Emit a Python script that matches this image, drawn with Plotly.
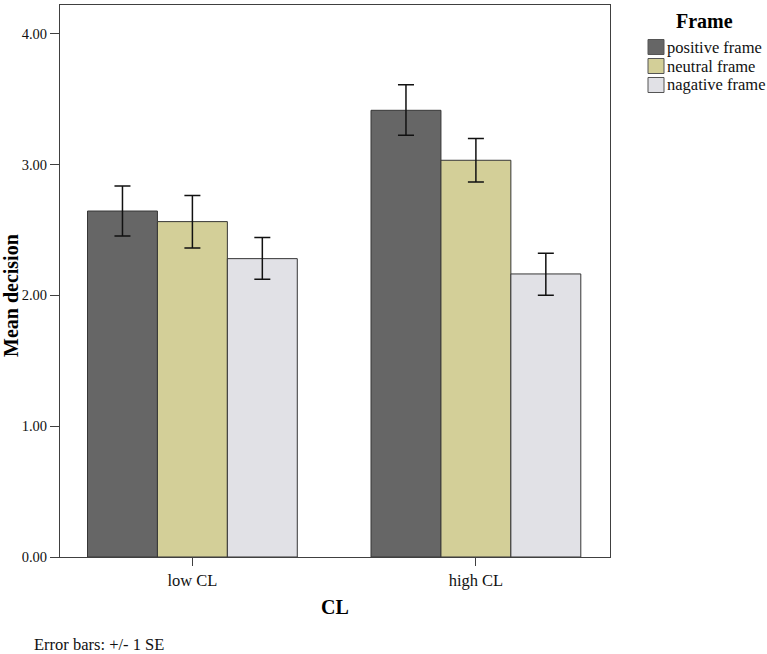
import plotly.graph_objects as go

categories = ["low CL", "high CL"]
frames = ["positive frame", "neutral frame", "nagative frame"]
means = {
    "positive frame": [2.645, 3.415],
    "neutral frame": [2.564, 3.033],
    "nagative frame": [2.281, 2.164],
}
err_upper = {
    "positive frame": [2.836, 3.611],
    "neutral frame": [2.763, 3.199],
    "nagative frame": [2.442, 2.322],
}
err_lower = {
    "positive frame": [2.454, 3.224],
    "neutral frame": [2.362, 2.867],
    "nagative frame": [2.123, 2.001],
}
colors = {
    "positive frame": "#666666",
    "neutral frame": "#d3cf98",
    "nagative frame": "#e1e1e6",
}
y_ticks = [0, 1, 2, 3, 4]
y_ticktext = ["0.00", "1.00", "2.00", "3.00", "4.00"]
legend_title = "Frame"
footnote = "Error bars: +/- 1 SE"

FONT = "Liberation Serif, Times New Roman, serif"
W, H = 767, 654
ML, MR, MT, MB = 60, 157, 5, 97
PW, PH = W - ML - MR, H - MT - MB


def px(x):
    return (x - ML) / PW


def py(y):
    return (H - MB - y) / PH


fig = go.Figure()
for f in frames:
    m = means[f]
    up = [u - v for u, v in zip(err_upper[f], m)]
    dn = [v - l for l, v in zip(err_lower[f], m)]
    fig.add_trace(go.Bar(
        x=categories, y=m, name=f, showlegend=False,
        marker=dict(color=colors[f], line=dict(color="#363636", width=1)),
        error_y=dict(type="data", array=up, arrayminus=dn, visible=True,
                     color="#111111", thickness=1.5, width=8),
    ))

shapes = []
annotations = []
# legend (drawn manually to match the original layout)
annotations.append(dict(
    text="<b>%s</b>" % legend_title, xref="paper", yref="paper",
    x=px(705), y=py(21), xanchor="center", yanchor="middle",
    showarrow=False, font=dict(size=20, family=FONT, color="#000000"),
))
for i, f in enumerate(frames):
    top = 39.5 + i * 19
    shapes.append(dict(
        type="rect", xref="paper", yref="paper",
        x0=px(648), x1=px(664), y0=py(top + 15), y1=py(top),
        fillcolor=colors[f], line=dict(color="#555555", width=1),
    ))
    annotations.append(dict(
        text=f, xref="paper", yref="paper",
        x=px(665), y=py(top + 7.5), xanchor="left", yanchor="middle",
        showarrow=False, font=dict(size=16.5, family=FONT, color="#111111"),
    ))
annotations.append(dict(
    text=footnote, xref="paper", yref="paper",
    x=px(32), y=py(644), xanchor="left", yanchor="middle",
    showarrow=False, font=dict(size=16.5, family=FONT, color="#111111"),
))
annotations.append(dict(
    text="<b>Mean decision</b>", xref="paper", yref="paper",
    x=px(11), y=py(296), xanchor="center", yanchor="middle", textangle=-90,
    showarrow=False, font=dict(size=20, family=FONT, color="#000000"),
))
annotations.append(dict(
    text="<b>CL</b>", xref="paper", yref="paper",
    x=px(335), y=py(607), xanchor="center", yanchor="middle",
    showarrow=False, font=dict(size=20, family=FONT, color="#000000"),
))

fig.update_layout(
    barmode="group",
    bargap=0.26,
    bargroupgap=0,
    width=W, height=H,
    margin=dict(l=ML, r=MR, t=MT, b=MB, autoexpand=False),
    plot_bgcolor="white",
    paper_bgcolor="white",
    font=dict(family=FONT, size=14, color="#111111"),
    showlegend=False,
    xaxis=dict(
        range=[-0.467, 1.473], automargin=False,
        showline=True, linecolor="#404040", linewidth=1, mirror=True,
        ticks="outside", ticklen=8, tickcolor="#404040",
        tickfont=dict(size=16.5, family=FONT),
    ),
    yaxis=dict(
        range=[0, 4.22], automargin=False,
        tickvals=y_ticks, ticktext=y_ticktext,
        showline=True, linecolor="#404040", linewidth=1, mirror=True,
        ticks="outside", ticklen=9, tickcolor="#404040",
        tickfont=dict(size=14.5, family=FONT),
        showgrid=False, zeroline=False,
    ),
    shapes=shapes,
    annotations=annotations,
)

fig.write_html(
    "out.html",
    config={"displayModeBar": False},
    post_script="document.body.style.margin='0';document.body.style.padding='0';"
                "document.body.style.overflow='hidden';",
)
